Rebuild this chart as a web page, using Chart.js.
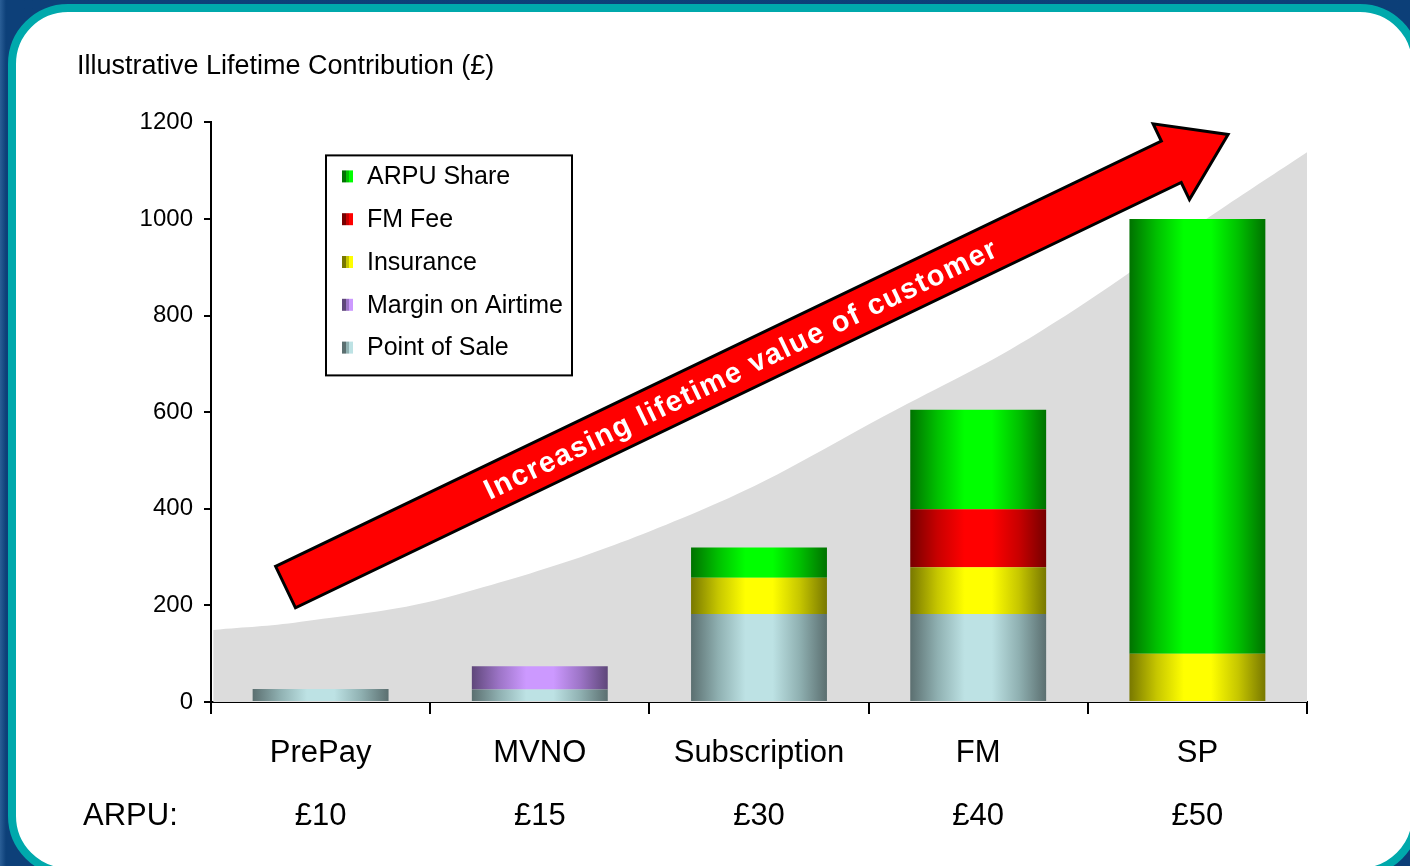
<!DOCTYPE html>
<html>
<head>
<meta charset="utf-8">
<title>Illustrative Lifetime Contribution</title>
<script src="https://cdn.jsdelivr.net/npm/chart.js@4/dist/chart.umd.min.js"></script>
<style>
  html, body { margin: 0; padding: 0; }
  body {
    width: 1410px; height: 866px; overflow: hidden; position: relative;
    background: linear-gradient(90deg, #2a5e96 0px, #0d4079 6px, #0c3f78 100%);
  }
  .panel {
    position: absolute; left: 8px; top: 4px; width: 1412px; height: 872px;
    box-sizing: border-box; border: 8px solid #00a9ac; border-radius: 60px;
    background: #fff;
  }
  .chart-wrapper { position: absolute; left: 0; top: 0; width: 1410px; height: 866px; }
</style>
</head>
<body>
<div class="panel"></div>
<div class="chart-wrapper"><canvas id="lifetimeChart"></canvas></div>
<script>
// 各类客户的终身贡献（堆叠柱）
const categories = ['PrePay', 'MVNO', 'Subscription', 'FM', 'SP'];
const arpu = [10, 15, 30, 40, 50];

const pointOfSale     = [27, 26, 182, 182, 0];
const marginOnAirtime = [0, 48, 0, 0, 0];
const insurance       = [0, 0, 75, 97, 100];
const fmFee           = [0, 0, 0, 120, 0];
const arpuShare       = [0, 0, 63, 206, 900];

// 背景灰色趋势面（x 以类别序号计）
const trendX = [-0.49, -0.09, 0.62, 1.73, 2.63, 3.28, 4.10, 4.54];
const trendY = [149, 166, 222, 396, 606, 766, 1018, 1150];

// 箭头起止点（同样用坐标轴数值）
const arrowFrom = { x: -0.16, y: 238 };
const arrowTo = { x: 4.14, y: 1175 };
const arrowText = 'Increasing lifetime value of customer';

const yMin = 0, yMax = 1200, yStep = 200;

const FONT = '"Liberation Sans", Arial, sans-serif';
const BAR_PCT = 0.62;

// 柱子的圆柱渐变：暗 / 中 / 亮
const shades = {
  'Point of Sale':     ['#5b6f70', '#8fb0b1', '#bde2e4'],
  'Margin on Airtime': ['#5f477a', '#9c74c6', '#cc99ff'],
  'Insurance':         ['#787800', '#c6c600', '#ffff00'],
  'FM Fee':            ['#760000', '#c80000', '#ff0000'],
  'ARPU Share':        ['#007200', '#00c000', '#00ff00']
};

function barFill(context) {
  const chart = context.chart;
  const shade = shades[context.dataset.label];
  const x = chart.scales.x;
  if (!chart.chartArea || !x || context.dataIndex === undefined) return shade[2];
  const centre = x.getPixelForValue(context.dataIndex);
  const half = x.width / categories.length * BAR_PCT / 2;
  const g = chart.ctx.createLinearGradient(centre - half, 0, centre + half, 0);
  g.addColorStop(0, shade[0]);
  g.addColorStop(0.2, shade[1]);
  g.addColorStop(0.4, shade[2]);
  g.addColorStop(0.6, shade[2]);
  g.addColorStop(0.8, shade[1]);
  g.addColorStop(1, shade[0]);
  return g;
}

function barSet(label, values) {
  return {
    type: 'bar',
    label: label,
    data: values,
    backgroundColor: barFill,
    borderWidth: 0,
    barPercentage: BAR_PCT,
    categoryPercentage: 1,
    grouped: false,
    stack: 'total'
  };
}

// 图例框（画在图内左上）
const boxLegend = {
  id: 'boxLegend',
  afterDatasetsDraw(chart) {
    const { ctx, chartArea } = chart;
    const left = chartArea.left + 115, top = chartArea.top + 33;
    const w = 246, h = 220;
    ctx.save();
    ctx.fillStyle = '#fff';
    ctx.fillRect(left, top, w, h);
    ctx.strokeStyle = '#000';
    ctx.lineWidth = 2;
    ctx.strokeRect(left, top, w, h);

    const items = chart.data.datasets.filter(d => d.type === 'bar').reverse();
    ctx.font = '25px ' + FONT;
    ctx.textBaseline = 'middle';
    ctx.textAlign = 'left';
    items.forEach((d, i) => {
      const cy = top + 21 + i * 42.8;
      const s = shades[d.label];
      const sx = left + 16;
      ctx.fillStyle = s[0]; ctx.fillRect(sx, cy - 6, 4, 12);
      ctx.fillStyle = s[1]; ctx.fillRect(sx + 4, cy - 6, 3, 12);
      ctx.fillStyle = s[2]; ctx.fillRect(sx + 7, cy - 6, 4, 12);
      ctx.fillStyle = '#000';
      ctx.fillText(d.label, left + 41, cy + 1);
    });
    ctx.restore();
  }
};

// 红色箭头与文字
const growthArrow = {
  id: 'growthArrow',
  afterDatasetsDraw(chart) {
    const { ctx } = chart;
    const xs = chart.scales.xc, ys = chart.scales.y;
    const x0 = xs.getPixelForValue(arrowFrom.x), y0 = ys.getPixelForValue(arrowFrom.y);
    const x1 = xs.getPixelForValue(arrowTo.x), y1 = ys.getPixelForValue(arrowTo.y);
    const len = Math.hypot(x1 - x0, y1 - y0);
    const angle = Math.atan2(y1 - y0, x1 - x0);
    const shaft = 23, head = 42, headLen = 63;

    ctx.save();
    ctx.translate(x0, y0);
    ctx.rotate(angle);
    ctx.beginPath();
    ctx.moveTo(0, -shaft);
    ctx.lineTo(len - headLen, -shaft);
    ctx.lineTo(len - headLen, -head);
    ctx.lineTo(len, 0);
    ctx.lineTo(len - headLen, head);
    ctx.lineTo(len - headLen, shaft);
    ctx.lineTo(0, shaft);
    ctx.closePath();
    ctx.fillStyle = '#ff0000';
    ctx.fill();
    ctx.lineJoin = 'miter';
    ctx.lineWidth = 3;
    ctx.strokeStyle = '#000';
    ctx.stroke();

    ctx.fillStyle = '#fff';
    ctx.font = 'bold 29px ' + FONT;
    ctx.letterSpacing = '1.5px';
    ctx.textAlign = 'center';
    ctx.textBaseline = 'middle';
    ctx.fillText(arrowText, 505, 2);
    ctx.restore();
  }
};

// ARPU: 行首标签
const arpuCaption = {
  id: 'arpuCaption',
  afterDraw(chart) {
    const { ctx, chartArea } = chart;
    ctx.save();
    ctx.font = '31px ' + FONT;
    ctx.fillStyle = '#000';
    ctx.textAlign = 'left';
    ctx.textBaseline = 'middle';
    ctx.fillText('ARPU:', chart.scales.y.left + 6, chartArea.bottom + 20 + 63 * 1.5);
    ctx.restore();
  }
};

const ctx = document.getElementById('lifetimeChart');

new Chart(ctx, {
  type: 'bar',
  data: {
    labels: categories.map((c, i) => [c, '£' + arpu[i]]),
    datasets: [
      barSet('Point of Sale', pointOfSale),
      barSet('Margin on Airtime', marginOnAirtime),
      barSet('Insurance', insurance),
      barSet('FM Fee', fmFee),
      barSet('ARPU Share', arpuShare),
      {
        type: 'line',
        label: 'trend',
        data: trendX.map((x, i) => ({ x: x, y: trendY[i] })),
        xAxisID: 'xc',
        stack: 'trend',
        fill: 'origin',
        backgroundColor: '#dcdcdc',
        borderWidth: 0,
        pointRadius: 0,
        tension: 0.4,
        clip: false,
        order: 10
      }
    ]
  },
  options: {
    responsive: true,
    maintainAspectRatio: false,
    animation: false,
    layout: { padding: { left: 77, right: 103, top: 50, bottom: 10 } },
    plugins: {
      legend: { display: false },
      tooltip: { enabled: false },
      title: {
        display: true,
        text: 'Illustrative Lifetime Contribution (£)',
        align: 'start',
        color: '#000',
        font: { family: FONT, size: 27, weight: 'normal' },
        padding: { top: 0, bottom: 40 }
      }
    },
    scales: {
      x: {
        stacked: true,
        offset: true,
        border: { display: true, color: '#000', width: 2 },
        grid: { offset: true, drawOnChartArea: false, color: '#000', lineWidth: 2, tickLength: 12 },
        ticks: {
          color: '#000',
          padding: 8,
          maxRotation: 0,
          font: { family: FONT, size: 31, lineHeight: 63 / 31 }
        }
      },
      xc: {
        type: 'linear',
        display: false,
        offset: false,
        min: -0.5,
        max: 4.5
      },
      y: {
        stacked: true,
        min: yMin,
        max: yMax,
        afterFit: s => { s.width = 134; },
        border: { display: true, color: '#000', width: 2 },
        grid: { drawOnChartArea: false, color: '#000', lineWidth: 2, tickLength: 7 },
        ticks: {
          stepSize: yStep,
          color: '#000',
          padding: 11,
          font: { family: FONT, size: 24 },
          callback: v => String(v)
        }
      }
    }
  },
  plugins: [boxLegend, growthArrow, arpuCaption]
});
</script>
</body>
</html>
